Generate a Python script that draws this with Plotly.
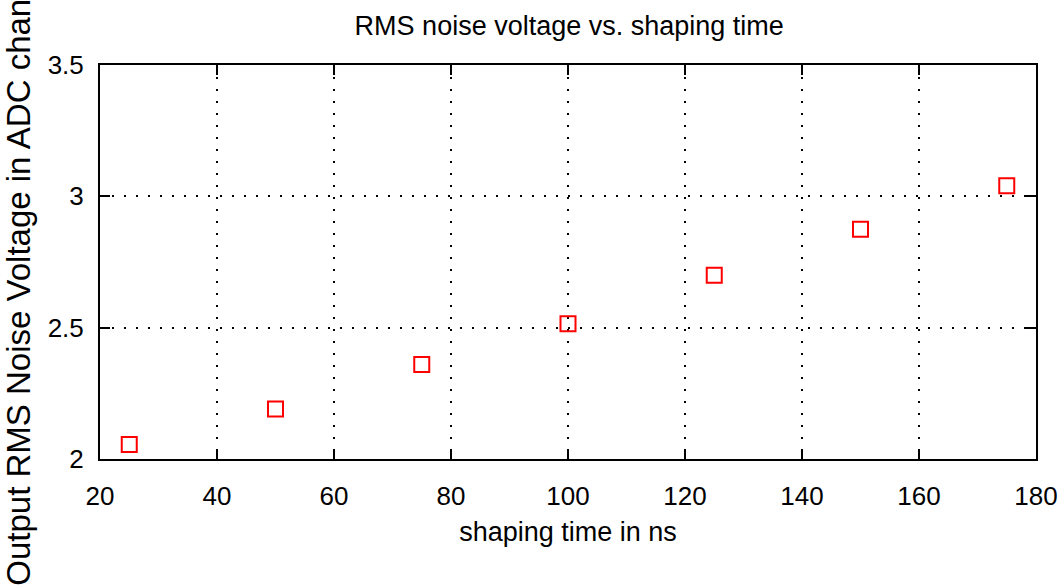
import plotly.graph_objects as go

shaping_time_ns = [25, 50, 75, 100, 125, 150, 175]
rms_noise_adc = [2.055, 2.19, 2.36, 2.515, 2.70, 2.875, 3.04]

x_ticks = [20, 40, 60, 80, 100, 120, 140, 160, 180]
y_ticks = [2, 2.5, 3, 3.5]
y_tick_text = ["2", "2.5", "3", "3.5"]

FONT = "Liberation Sans, Arial, Helvetica, sans-serif"

fig = go.Figure()
fig.add_trace(go.Scatter(
    x=shaping_time_ns, y=rms_noise_adc, mode="markers",
    marker=dict(symbol="square-open", size=15, color="#ff0000",
                line=dict(width=2, color="#ff0000")),
    showlegend=False,
))

fig.update_layout(
    width=1060, height=588,
    margin=dict(l=100, r=24, t=65, b=129),
    paper_bgcolor="white", plot_bgcolor="white",
    font=dict(family=FONT, color="black", size=26),
    title=dict(text="RMS noise voltage vs. shaping time", x=0.537, xanchor="center",
               y=1 - 26 / 588, yanchor="middle", yref="container",
               font=dict(family=FONT, size=27, color="black")),
)

fig.update_xaxes(
    range=[20, 180], tickvals=x_ticks, ticks="inside", ticklen=10, tickwidth=1.5,
    tickcolor="black", showline=True, linecolor="black", linewidth=2, mirror="ticks",
    showgrid=True, gridcolor="black", gridwidth=1.5, griddash="2px,10px",
    zeroline=False, ticklabelstandoff=13, ticklabeloverflow="allow", automargin=False,
    tickfont=dict(family=FONT, size=26),
    title=dict(text="shaping time in ns", standoff=12, font=dict(family=FONT, size=27)),
)
fig.update_yaxes(
    range=[2, 3.5], tickvals=y_ticks, ticktext=y_tick_text, ticks="inside", ticklen=10,
    tickwidth=1.5, tickcolor="black", showline=True, linecolor="black", linewidth=2,
    mirror="ticks", showgrid=True, gridcolor="black", gridwidth=1.5, griddash="2px,10px",
    zeroline=False, ticklabelstandoff=9, automargin=False,
    tickfont=dict(family=FONT, size=26),
    title=dict(text="Output RMS Noise Voltage in ADC channels", standoff=20,
               font=dict(family=FONT, size=33)),
)

fig.write_html("out.html")
